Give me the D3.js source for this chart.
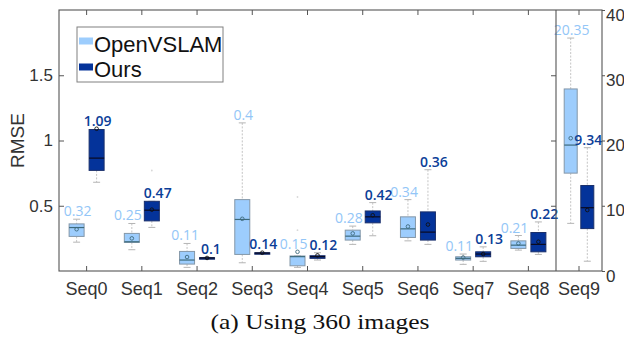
<!DOCTYPE html>
<html><head><meta charset="utf-8">
<script src="https://cdn.jsdelivr.net/npm/d3@7"></script>
<style>body{margin:0;background:#fff}svg{display:block}</style>
</head><body><svg id="c" width="624" height="339"></svg>
<script>
const categories = ["Seq0","Seq1","Seq2","Seq3","Seq4","Seq5","Seq6","Seq7","Seq8","Seq9"];
const leftTicks = [0.5, 1, 1.5];
const rightTicks = [0, 10, 20, 30, 40];
// OpenVSLAM box statistics
const openLo   = [0.221,0.163,0.028,0.063,0.028,0.204,0.231,0.051,0.160, 7.3];
const openQ1   = [0.265,0.219,0.053,0.127,0.040,0.237,0.257,0.084,0.173,15.0];
const openMed  = [0.333,0.224,0.084,0.395,0.110,0.267,0.323,0.097,0.198,19.3];
const openQ3   = [0.361,0.288,0.150,0.547,0.115,0.313,0.415,0.109,0.231,27.9];
const openHi   = [0.397,0.364,0.211,1.135,0.115,0.344,0.547,0.130,0.272,35.7];
const openMean = [0.32,0.25,0.107,0.40,0.147,0.288,0.341,0.103,0.211,20.35];
const openLabels = ["0.32","0.25","0.11","0.4","0.15","0.28","0.34","0.11","0.21","20.35"];
const openOutliers = [[],[],[],[],[0.313,0.567],[],[],[],[],[]];
// Ours box statistics
const oursLo   = [0.680,0.334,0.095,0.132,0.084,0.270,0.204,0.074,0.127, 1.5];
const oursQ1   = [0.771,0.384,0.098,0.135,0.097,0.369,0.237,0.109,0.147, 6.5];
const oursMed  = [0.865,0.466,0.100,0.137,0.110,0.415,0.298,0.130,0.204, 9.7];
const oursQ3   = [1.084,0.534,0.102,0.140,0.117,0.460,0.453,0.147,0.295,13.1];
const oursHi   = [1.084,0.534,0.105,0.142,0.140,0.524,0.776,0.185,0.376,18.9];
const oursMean = [1.09,0.47,0.10,0.14,0.12,0.427,0.356,0.13,0.224,9.34];
const oursLabels = ["1.09","0.47","0.1","0.14","0.12","0.42","0.36","0.13","0.22","9.34"];
const oursOutliers = [[],[0.77],[],[],[],[],[],[],[],[]];

const svg = d3.select("#c");
const L = 59, R = 602, T = 10, B = 271, SEP = 556;
const frame = "#555";
const xMain = d3.scaleBand().domain(categories.slice(0,9)).range([L, SEP]);
const xLast = d3.scaleBand().domain(categories.slice(9)).range([SEP, R]);
const yL = d3.scaleLinear().domain([0,2]).range([B,T]);
const yR = d3.scaleLinear().domain([0,40]).range([B,T]);

function cx(i){ return i<9 ? xMain(categories[i]) + xMain.bandwidth()/2 : xLast(categories[i]) + xLast.bandwidth()/2; }

const series = [
  {name:"OpenVSLAM", lo:openLo,q1:openQ1,med:openMed,q3:openQ3,hi:openHi,mean:openMean,labels:openLabels,out:openOutliers,
   fill:"#9dcdfd", stroke:"#8497a8", medc:"#3d6a7c", meanc:"#3d6a7c", textc:"#93c6f7", side:-1, weight:400},
  {name:"Ours", lo:oursLo,q1:oursQ1,med:oursMed,q3:oursQ3,hi:oursHi,mean:oursMean,labels:oursLabels,out:oursOutliers,
   fill:"#04339a", stroke:"#1a2f6a", medc:"#0a0a20", meanc:"#111", textc:"#0b3e98", side:1, weight:600}
];

const g = svg.append("g");
const labelNodes = [[],[]];
series.forEach((s,si) => {
  categories.forEach((c,i) => {
    const y = i<9 ? yL : yR;
    const off = i<9 ? 10 : 8.3;
    const w = i<9 ? 15 : 13;
    const x = cx(i) + s.side*off;
    g.append("line").attr("x1",x).attr("x2",x).attr("y1",y(s.hi[i])).attr("y2",y(s.q3[i]))
      .attr("stroke","#c4c4c4").attr("stroke-dasharray","2,1.5");
    g.append("line").attr("x1",x).attr("x2",x).attr("y1",y(s.q1[i])).attr("y2",y(s.lo[i]))
      .attr("stroke","#c4c4c4").attr("stroke-dasharray","2,1.5");
    [s.hi[i], s.lo[i]].forEach(v => g.append("line").attr("x1",x-3.5).attr("x2",x+3.5)
      .attr("y1",y(v)).attr("y2",y(v)).attr("stroke","#b5b5b5"));
    const top = y(s.q3[i]), bot = y(s.q1[i]);
    g.append("rect").attr("x",x-w/2).attr("y",top).attr("width",w).attr("height",Math.max(bot-top,1.5))
      .attr("fill",s.fill).attr("stroke",s.stroke).attr("stroke-width",1);
    g.append("line").attr("x1",x-w/2).attr("x2",x+w/2).attr("y1",y(s.med[i])).attr("y2",y(s.med[i]))
      .attr("stroke",s.medc).attr("stroke-width",1.2);
    g.append("circle").attr("cx",x).attr("cy",y(s.mean[i])).attr("r",1.8)
      .attr("fill","none").attr("stroke",s.meanc).attr("stroke-width",0.9);
    s.out[i].forEach(v => g.append("circle").attr("cx",x).attr("cy",y(v)).attr("r",0.9).attr("fill","#d8d8d8"));
    const topV = Math.max(s.hi[i], s.q3[i], s.mean[i]);
    const t = g.append("text").attr("x",x+1).attr("y",y(topV)-3).attr("text-anchor","middle")
      .attr("font-family","'Open Sans', sans-serif").attr("font-size",14).attr("font-weight",s.weight)
      .attr("fill",s.textc).text(s.labels[i]);
    labelNodes[si].push(t);
  });
});
// keep paired value labels from colliding: push them apart horizontally
categories.forEach((c,i) => {
  const a = labelNodes[0][i], b = labelNodes[1][i];
  const ax = +a.attr("x"), bx = +b.attr("x");
  const aw = a.node().getComputedTextLength(), bw = b.node().getComputedTextLength();
  if (Math.abs(+a.attr("y") - +b.attr("y")) < 32) {
    const overlap = (ax + aw/2 + 2) - (bx - bw/2);
    if (overlap > 0) { a.attr("x", ax - overlap/2); b.attr("x", bx + overlap/2); }
  }
});

const fr = svg.append("g").attr("stroke",frame).attr("fill","none").attr("stroke-width",1.1);
fr.append("rect").attr("x",L).attr("y",T).attr("width",R-L).attr("height",B-T);
fr.append("line").attr("x1",SEP).attr("x2",SEP).attr("y1",T).attr("y2",B);

const font = "'Liberation Sans', Arial, sans-serif";
function style(sel, size){
  sel.select(".domain").remove();
  sel.selectAll(".tick line").attr("stroke",frame);
  sel.selectAll("text").attr("font-family",font).attr("font-size",size).attr("fill","#333");
}
svg.append("g").attr("transform",`translate(${L},0)`)
  .call(d3.axisLeft(yL).tickValues(leftTicks).tickSize(-5).tickPadding(6).tickFormat(d3.format("~g")))
  .call(s=>style(s,17));
svg.append("g").attr("transform",`translate(${SEP},0)`)
  .call(d3.axisRight(yL).tickValues(leftTicks).tickSize(-5).tickFormat(""))
  .call(s=>style(s,17));
svg.append("g").attr("transform",`translate(${R},0)`)
  .call(d3.axisRight(yR).tickValues(rightTicks).tickSize(3).tickPadding(1))
  .call(s=>{style(s,17); s.selectAll("text").attr("dy","0.6em");});
svg.append("g").attr("transform",`translate(0,${B})`)
  .call(d3.axisBottom(xMain).tickSize(-5).tickPadding(11))
  .call(s=>style(s,18));
svg.append("g").attr("transform",`translate(0,${B})`)
  .call(d3.axisBottom(xLast).tickSize(-5).tickPadding(11))
  .call(s=>style(s,18));
svg.append("g").attr("transform",`translate(0,${T})`)
  .call(d3.axisTop(xMain).tickSize(-5).tickFormat("")).call(s=>style(s,18));
svg.append("g").attr("transform",`translate(0,${T})`)
  .call(d3.axisTop(xLast).tickSize(-5).tickFormat("")).call(s=>style(s,18));

svg.append("text").attr("transform",`translate(24,${(T+B)/2}) rotate(-90)`).attr("text-anchor","middle")
  .attr("font-family",font).attr("font-size",19).attr("fill","#333").text("RMSE");

const lg = svg.append("g");
lg.append("rect").attr("x",77).attr("y",27).attr("width",146).attr("height",55)
  .attr("fill","#fff").attr("stroke","#808080").attr("stroke-width",1);
series.forEach((s,k) => {
  lg.append("rect").attr("x",79).attr("y",37.5+k*26).attr("width",14).attr("height",7).attr("fill",s.fill);
  lg.append("text").attr("x",94).attr("y",52+k*25).attr("font-family",font).attr("font-size",22)
    .attr("fill","#111").text(s.name);
});

svg.append("text").attr("x",320).attr("y",329).attr("text-anchor","middle")
  .attr("font-family","'Liberation Serif', 'Times New Roman', Times, serif").attr("font-size",22)
  .attr("textLength",219).attr("lengthAdjust","spacingAndGlyphs")
  .attr("fill","#111").text("(a) Using 360 images");
</script></body></html>
